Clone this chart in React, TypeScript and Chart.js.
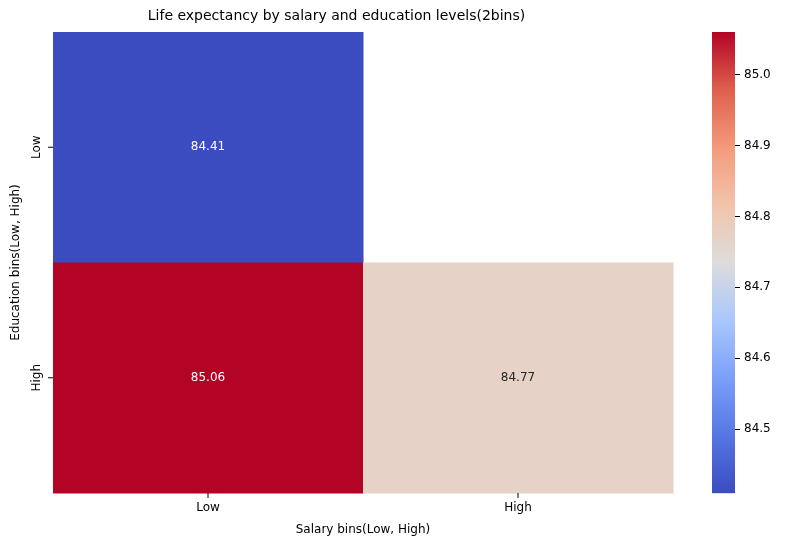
import { useRef, useEffect } from 'react';
import { Chart, registerables, type Plugin } from 'chart.js';

Chart.register(...registerables);

const salaryBins = ['Low', 'High'];
const educationBins = ['Low', 'High'];
// rows = education, cols = salary
const lowEduValues = [84.41, null];
const highEduValues = [85.06, 84.77];
const colorbarTicks = [84.5, 84.6, 84.7, 84.8, 84.9, 85.0];

const vmin = 84.41;
const vmax = 85.06;
const FONT = '"DejaVu Sans", sans-serif';

const stops: [number, number[]][] = [
  [0, [59, 76, 192]],
  [0.125, [86, 118, 227]],
  [0.25, [124, 159, 249]],
  [0.375, [170, 199, 253]],
  [0.5, [221, 220, 220]],
  [0.625, [242, 196, 171]],
  [0.75, [244, 154, 123]],
  [0.875, [222, 96, 77]],
  [1, [180, 4, 38]],
];

const coolwarm = (t: number) => {
  t = Math.max(0, Math.min(1, t));
  for (let i = 1; i < stops.length; i++) {
    if (t <= stops[i][0]) {
      const [t0, c0] = stops[i - 1];
      const [t1, c1] = stops[i];
      const f = (t - t0) / (t1 - t0);
      const c = c0.map((v, k) => Math.round(v + (c1[k] - v) * f));
      return { rgb: `rgb(${c.join(',')})`, lum: (0.299 * c[0] + 0.587 * c[1] + 0.114 * c[2]) / 255 };
    }
  }
  return { rgb: 'rgb(180,4,38)', lum: 0.3 };
};

const Heatmap = () => {
  const ref = useRef<HTMLCanvasElement | null>(null);
  useEffect(() => {
    if (!ref.current) return;
    const matrix = [lowEduValues, highEduValues];
    const cells: Plugin<'scatter'> = {
      id: 'cells',
      afterDraw: (chart) => {
        const { ctx, chartArea } = chart;
        const xs = chart.scales.x;
        const ys = chart.scales.y;
        const cw = chartArea.width / salaryBins.length;
        const ch = chartArea.height / educationBins.length;
        ctx.save();
        matrix.forEach((row, r) => {
          row.forEach((v, c) => {
            if (v == null) return;
            const cx = xs.getPixelForValue(c);
            const cy = ys.getPixelForValue(r);
            const col = coolwarm((v - vmin) / (vmax - vmin));
            ctx.fillStyle = col.rgb;
            ctx.fillRect(cx - cw / 2, cy - ch / 2, cw + 0.5, ch + 0.5);
            ctx.fillStyle = col.lum > 0.5 ? '#262626' : '#ffffff';
            ctx.font = `12px ${FONT}`;
            ctx.textAlign = 'center';
            ctx.textBaseline = 'middle';
            ctx.fillText(v.toFixed(2), cx, cy);
          });
        });
        ctx.fillStyle = '#000';
        ctx.strokeStyle = '#000';
        ctx.lineWidth = 1;
        ctx.font = `12px ${FONT}`;
        salaryBins.forEach((l, i) => {
          const x = xs.getPixelForValue(i);
          ctx.beginPath();
          ctx.moveTo(x, chartArea.bottom);
          ctx.lineTo(x, chartArea.bottom + 5);
          ctx.stroke();
          ctx.textAlign = 'center';
          ctx.textBaseline = 'top';
          ctx.fillText(l, x, chartArea.bottom + 9);
        });
        educationBins.forEach((l, i) => {
          const y = ys.getPixelForValue(i);
          ctx.beginPath();
          ctx.moveTo(chartArea.left - 5, y);
          ctx.lineTo(chartArea.left, y);
          ctx.stroke();
          ctx.save();
          ctx.translate(chartArea.left - 16, y);
          ctx.rotate(-Math.PI / 2);
          ctx.textAlign = 'center';
          ctx.textBaseline = 'middle';
          ctx.fillText(l, 0, 0);
          ctx.restore();
        });
        ctx.textAlign = 'center';
        ctx.textBaseline = 'middle';
        ctx.fillText('Salary bins(Low, High)', (chartArea.left + chartArea.right) / 2, 530);
        ctx.save();
        ctx.translate(16, (chartArea.top + chartArea.bottom) / 2);
        ctx.rotate(-Math.PI / 2);
        ctx.fillText('Education bins(Low, High)', 0, 0);
        ctx.restore();
        ctx.restore();
      },
    };
    const chart = new Chart(ref.current, {
      type: 'scatter',
      data: { datasets: [{ data: [] }] },
      options: {
        responsive: false,
        animation: false,
        layout: { padding: { left: 0, right: 27, top: 0, bottom: 0 } },
        plugins: {
          legend: { display: false },
          tooltip: { enabled: false },
          title: {
            display: true,
            text: 'Life expectancy by salary and education levels(2bins)',
            color: '#000',
            font: { family: FONT, size: 14, weight: 'normal' },
            padding: { top: 8, bottom: 7.2 },
          },
        },
        scales: {
          x: {
            type: 'category',
            labels: salaryBins,
            offset: true,
            grid: { display: false },
            border: { display: false },
            ticks: { display: false },
            afterFit: (s) => { s.height = 54; },
          },
          y: {
            type: 'category',
            labels: educationBins,
            offset: true,
            grid: { display: false },
            border: { display: false },
            ticks: { display: false },
            afterFit: (s) => { s.width = 53; },
          },
        },
      },
      plugins: [cells],
    });
    return () => chart.destroy();
  }, []);
  return <canvas ref={ref} width={700} height={547} style={{ position: 'absolute', left: 0, top: 0 }} />;
};

const Colorbar = () => {
  const ref = useRef<HTMLCanvasElement | null>(null);
  useEffect(() => {
    if (!ref.current) return;
    const grad: Plugin<'bar'> = {
      id: 'grad',
      beforeDatasetsDraw: (chart) => {
        const { ctx, chartArea } = chart;
        const ys = chart.scales.y;
        for (let y = Math.floor(chartArea.top); y < chartArea.bottom; y++) {
          const v = ys.getValueForPixel(y + 0.5) as number;
          ctx.fillStyle = coolwarm((v - vmin) / (vmax - vmin)).rgb;
          ctx.fillRect(chartArea.left, y, chartArea.width, 1.2);
        }
      },
    };
    const chart = new Chart(ref.current, {
      type: 'bar',
      data: { labels: [''], datasets: [{ data: [] }] },
      options: {
        responsive: false,
        animation: false,
        layout: { padding: { left: 12, top: 32, bottom: 54, right: 0 } },
        plugins: { legend: { display: false }, tooltip: { enabled: false } },
        scales: {
          x: { display: false },
          y: {
            position: 'right',
            min: vmin,
            max: vmax,
            afterBuildTicks: (s) => { s.ticks = colorbarTicks.map((value) => ({ value })); },
            grid: { drawOnChartArea: false, tickLength: 5, color: '#000' },
            border: { display: false },
            ticks: { color: '#000', font: { family: FONT, size: 12 }, padding: 4, callback: (v) => Number(v).toFixed(1) },
            afterFit: (s) => { s.width = 50; },
          },
        },
      },
      plugins: [grad],
    });
    return () => chart.destroy();
  }, []);
  return <canvas ref={ref} width={85} height={547} style={{ position: 'absolute', left: 700, top: 0 }} />;
};

export default function App() {
  return (
    <div style={{ position: 'fixed', left: 0, top: 0, width: 785, height: 547, background: '#fff' }}>
      <Heatmap />
      <Colorbar />
    </div>
  );
}
